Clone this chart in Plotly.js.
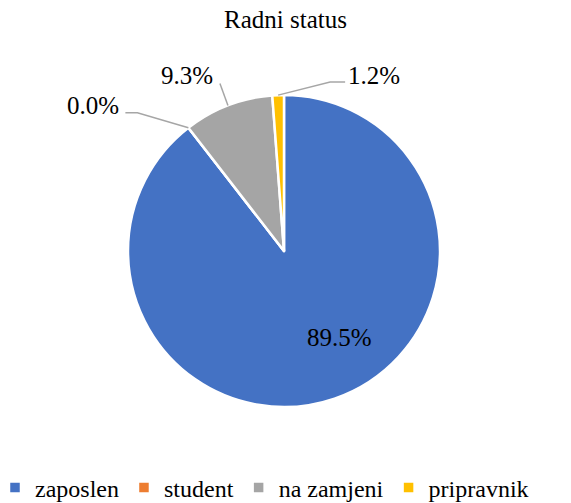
<!DOCTYPE html>
<html>
<head>
<meta charset="utf-8">
<script src="https://cdn.plot.ly/plotly-3.0.1.min.js"></script>
<style>html,body{margin:0;padding:0;background:#fff;} #chart{width:571px;height:503px;}</style>
</head>
<body>
<div id="chart"></div>
<script>
// ---- data ----
const chartTitle = 'Radni status';
const categories = ['zaposlen', 'student', 'na zamjeni', 'pripravnik'];
const values = [89.5, 0.0, 9.3, 1.2];
const colors = ['#4472C4', '#ED7D31', '#A5A5A5', '#FFC000'];

// ---- geometry / style ----
const W = 571, H = 503;
const cx = 284, cy = 251, R = 156;
const font = 'Liberation Serif';
const labelStyle = [
  {inside: true, rf: 0.66, text: [22, -11]},
  {inside: false, text: [-95, -22], elbow: [-51, -15], start: [-63, -15]},
  {inside: false, text: [-41, -30], elbow: [-8, -22], start: [-8, -22]},
  {inside: false, text: [96, -20], elbow: [52, -13], start: [67, -13]}
];

const total = values.reduce((a, b) => a + b, 0);
const px = x => x / W;
const py = y => 1 - y / H;

const annotations = [];
const shapes = [];
let cum = 0;
values.forEach((v, i) => {
  const midFrac = (cum + v / 2) / total;
  cum += v;
  const ang = midFrac * 2 * Math.PI; // clockwise from top
  const ux = Math.sin(ang), uy = -Math.cos(ang);
  const st = labelStyle[i];
  const pct = (v / total * 100).toFixed(1) + '%';
  if (st.inside) {
    const ax = cx + ux * R * st.rf + st.text[0];
    const ay = cy + uy * R * st.rf + st.text[1];
    annotations.push({x: px(ax), y: py(ay), xref: 'paper', yref: 'paper', text: pct, showarrow: false,
      font: {family: font, size: 25, color: '#000'}, xanchor: 'center', yanchor: 'middle'});
  } else {
    const ex = cx + ux * R, ey = cy + uy * R;
    annotations.push({x: px(ex + st.text[0]), y: py(ey + st.text[1]), xref: 'paper', yref: 'paper', text: pct,
      showarrow: false, font: {family: font, size: 25, color: '#000'}, xanchor: 'center', yanchor: 'middle'});
    const path = 'M ' + px(ex + st.start[0]) + ' ' + py(ey + st.start[1]) +
      ' L ' + px(ex + st.elbow[0]) + ' ' + py(ey + st.elbow[1]) +
      ' L ' + px(ex) + ' ' + py(ey);
    shapes.push({type: 'path', xref: 'paper', yref: 'paper', path: path, line: {color: '#A6A6A6', width: 1.5}});
  }
});

const trace = {
  type: 'pie',
  labels: categories,
  values: values,
  sort: false,
  direction: 'clockwise',
  rotation: 0,
  automargin: false,
  marker: {colors: colors, line: {color: '#ffffff', width: 2.5}},
  textinfo: 'none',
  hoverinfo: 'label+percent',
  domain: {x: [px(cx - R), px(cx + R)], y: [py(cy + R), py(cy - R)]}
};

const layout = {
  width: W, height: H,
  margin: {l: 0, r: 0, t: 0, b: 0, autoexpand: false},
  paper_bgcolor: '#fff',
  font: {family: font},
  title: {text: chartTitle, font: {family: font, size: 25, color: '#000'}, x: 0.5, xanchor: 'center',
    y: 1 - 19 / H, yref: 'container', yanchor: 'middle'},
  showlegend: true,
  legend: {orientation: 'h', x: 0.5 - 21 / W, xanchor: 'center', y: py(488), yanchor: 'middle',
    font: {family: font, size: 24, color: '#000'}, itemwidth: 30, traceorder: 'normal'},
  annotations: annotations,
  shapes: shapes
};

Plotly.newPlot('chart', [trace], layout, {displayModeBar: false, staticPlot: true});
</script>
</body>
</html>
